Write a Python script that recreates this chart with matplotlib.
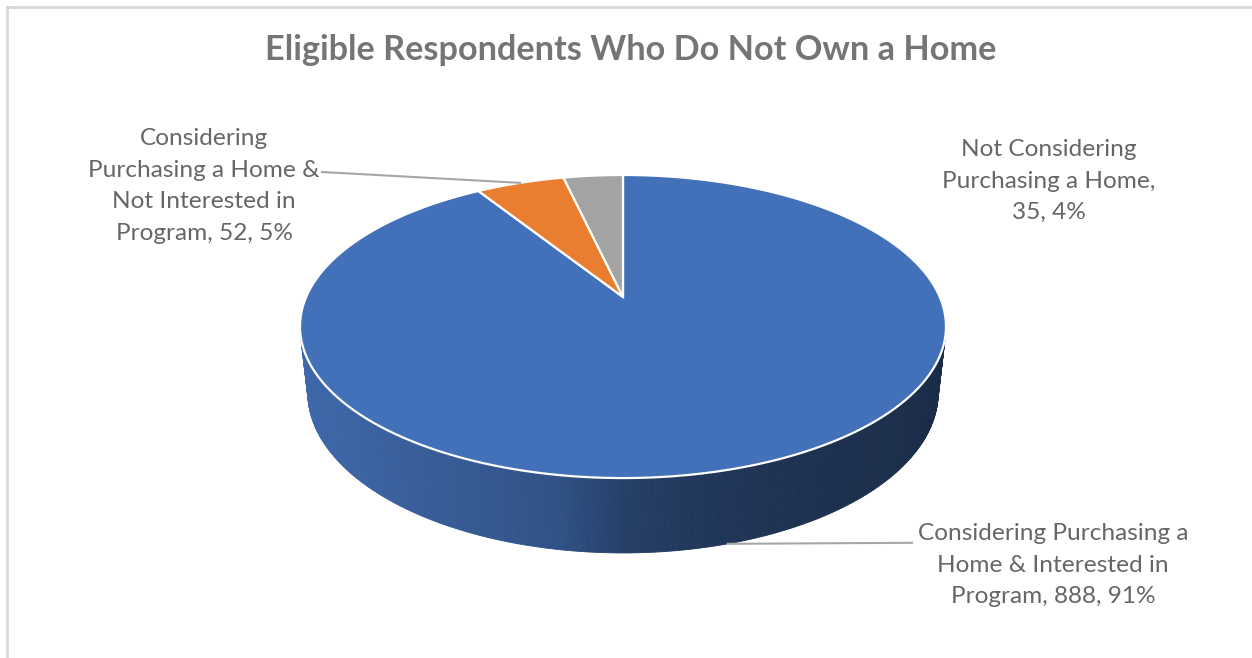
import matplotlib.pyplot as plt
import numpy as np
from matplotlib.patches import Polygon

# survey counts, clockwise from 12 o'clock
labels = [
    "Considering Purchasing a\nHome & Interested in\nProgram",
    "Considering\nPurchasing a Home &\nNot Interested in\nProgram",
    "Not Considering\nPurchasing a Home",
]
counts = [888, 52, 35]
colors = ["#4371b9", "#e97d30", "#a3a3a3"]
title = "Eligible Respondents Who Do Not Own a Home"

# 3d view of the pie (figure pixels)
cx, cy = 623, 297
focal, dist = 1443.7, 4.557
elev = np.arcsin(0.4602)
thick = 0.236
se, ce = np.sin(elev), np.cos(elev)


def project(x, y, z):
    depth = dist - y * se + z * ce
    v = y * ce + z * se
    return cx + focal * x / depth, cy - focal * v / depth


def wall_shade(t):
    # light from the left, dark on the right
    return np.interp(t, [0, 0.4, 0.45, 0.5, 0.62, 0.8, 1.0],
                     [0.92, 0.72, 0.64, 0.56, 0.49, 0.43, 0.39])


fig = plt.figure(figsize=(12.52, 6.58), dpi=100)
ax = fig.add_axes([0, 0, 1, 1])
ax.set_xlim(0, 1252)
ax.set_ylim(658, 0)
ax.axis("off")

total = sum(counts)
fracs = np.array(counts) / total
edges = np.concatenate([[0], np.cumsum(fracs)]) * 2 * np.pi  # clockwise from top


def circle_pt(a, y=0.0):
    # a measured clockwise from the far (top) point
    return project(np.sin(a), y, np.cos(a))


def wedge_color(a):
    i = np.searchsorted(edges, a % (2 * np.pi), side="right") - 1
    return np.array(plt.matplotlib.colors.to_rgb(colors[min(i, len(counts) - 1)]))


# side wall, only the part that faces the viewer
lim = np.arcsin(1 / (dist * ce))
a0 = np.pi / 2 + lim
a1 = 3 * np.pi / 2 - lim
steps = np.linspace(a0, a1, 300)
for a, b in zip(steps[:-1], steps[1:]):
    p1, p2 = circle_pt(a), circle_pt(b)
    p3, p4 = circle_pt(b, -thick), circle_pt(a, -thick)
    xm = (p1[0] + p2[0]) / 2
    t = (xm - 300) / (946 - 300)
    col = np.clip(wedge_color((a + b) / 2) * wall_shade(t), 0, 1)
    ax.add_patch(Polygon([p1, p2, p3, p4], closed=True, facecolor=col,
                         edgecolor=col, lw=0.6, zorder=2))

# top face
apex = project(0, 0, 0)
for i in range(len(counts)):
    arc = np.linspace(edges[i], edges[i + 1], 200)
    pts = [apex] + [circle_pt(a) for a in arc]
    ax.add_patch(Polygon(pts, closed=True, facecolor=colors[i],
                         edgecolor="white", lw=1.6, zorder=3))

# data labels
font = "Lato"
txt_col = "#666666"
pcts = [round(f * 100) for f in fracs]
lab_pos = [(1053, 565), (204, 186), (1049, 181)]
for i in range(len(counts)):
    s = f"{labels[i]}, {counts[i]}, {pcts[i]}%"
    if i == 2:
        s = f"{labels[i]},\n{counts[i]}, {pcts[i]}%"
    ax.text(lab_pos[i][0], lab_pos[i][1], s, ha="center", va="center",
            fontsize=17.6, color=txt_col, family=font, linespacing=1.62, zorder=5)

# leader lines
mid_blue = (edges[0] + edges[1]) / 2
bx, by = circle_pt(mid_blue, -thick)
ax.plot([bx, 912], [by, by - 1], color="#a6a6a6", lw=1.5, zorder=4)
mid_orange = (edges[1] + edges[2]) / 2
ox, oy = circle_pt(mid_orange)
ax.plot([322, ox], [172, oy], color="#a6a6a6", lw=1.5, zorder=4)

ax.text(631, 50, title, ha="center", va="center", fontsize=24.7,
        fontweight="bold", color="#757575", family=font)

# chart frame (top and left edges)
ax.plot([6.5, 1252], [6.5, 6.5], color="#d9d9d9", lw=2, zorder=1)
ax.plot([6.5, 6.5], [6.5, 658], color="#d9d9d9", lw=2, zorder=1)

fig.savefig("out.png", dpi=100)
